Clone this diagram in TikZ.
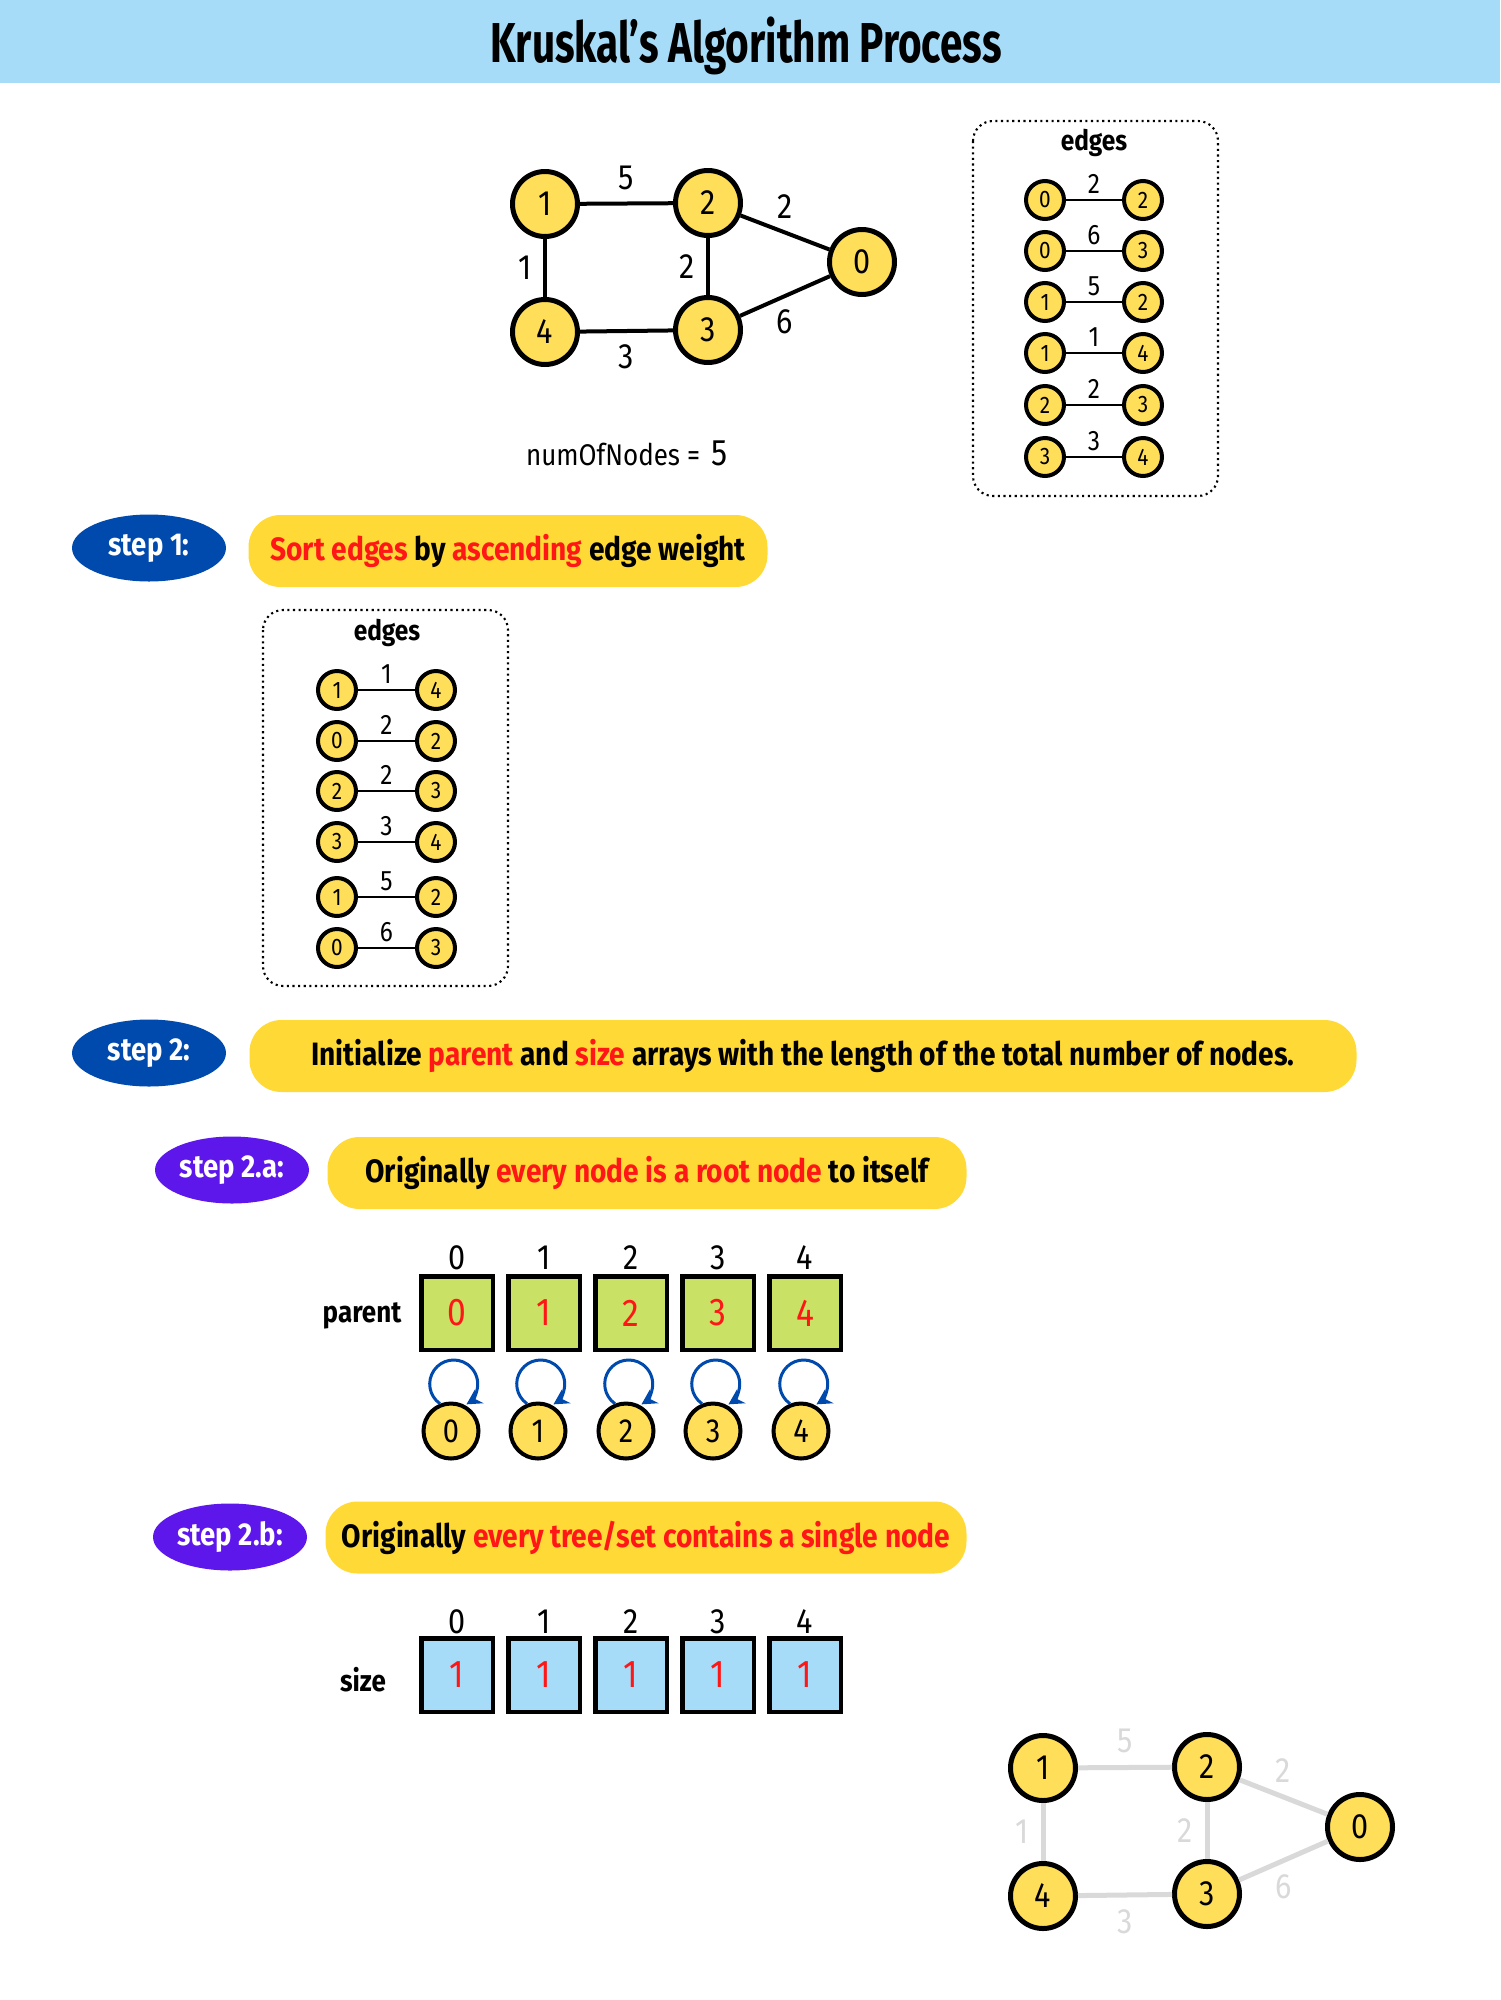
\documentclass[tikz,border=0pt]{standalone}
\usepackage{fontspec}
\setmainfont{Fira Sans}[FakeStretch=0.87]
\newfontfamily\titlefont{Fira Sans}[FakeStretch=0.72]
\usetikzlibrary{shapes.geometric,arrows.meta}

\definecolor{titleblue}{HTML}{A6DCF8}
\definecolor{nodeyellow}{HTML}{FFDE59}
\definecolor{banneryellow}{HTML}{FFDA36}
\definecolor{stepblue}{HTML}{004AAD}
\definecolor{steppurple}{HTML}{5E17EB}
\definecolor{cellgreen}{HTML}{C9E265}
\definecolor{textred}{HTML}{FF1616}
\definecolor{fadegray}{HTML}{D9D9D9}

\begin{document}
\begin{tikzpicture}[
    vertex/.style={shape=circle,draw=black,fill=nodeyellow,line width=0.5mm,minimum size=6.5mm,inner sep=0pt,font=\fontsize{10}{12}\selectfont},
    smallvertex/.style={shape=circle,draw=black,fill=nodeyellow,line width=0.4mm,minimum size=3.8mm,inner sep=0pt,font=\fontsize{6.8}{8}\selectfont},
    arrvertex/.style={shape=circle,draw=black,fill=nodeyellow,line width=0.4mm,minimum size=5.5mm,inner sep=0pt,font=\fontsize{9.5}{11}\selectfont},
    graphedge/.style={line width=0.4mm,font=\fontsize{10}{12}\selectfont},
    fadeedge/.style={draw=fadegray,line width=0.5mm,font=\fontsize{10}{12}\selectfont},
    fadelabel/.style={text=fadegray},
    listedge/.style={line width=0.2mm},
    weight/.style={above,inner sep=1.5pt,font=\fontsize{8}{10}\selectfont},
    listbox/.style={line width=0.6pt,densely dotted,rounded corners=2mm},
    boxtitle/.style={font=\bfseries\fontsize{8}{10}\selectfont},
    stepoval/.style={shape=ellipse,inner sep=0pt,minimum width=15.4mm,minimum height=6.7mm,text=white,font=\bfseries\fontsize{9}{11}\selectfont},
    banner/.style={fill=banneryellow,rounded corners=3.2mm,minimum height=7.2mm,font=\bfseries\fontsize{9.2}{11}\selectfont},
    cell/.style={draw=black,line width=0.45mm,minimum width=7.15mm,minimum height=7.35mm,inner sep=0pt,text=textred,font=\fontsize{11}{13}\selectfont},
    idx/.style={font=\fontsize{10}{12}\selectfont},
    arrname/.style={font=\bfseries\fontsize{8.5}{10}\selectfont},
    selfloop/.style={->,>={Stealth[length=1.5mm,width=1.6mm]},draw=stepblue,line width=0.3mm}
  ]
    \useasboundingbox (0,0) rectangle (15,-20);

    % title bar
    \fill[titleblue] (0,0) rectangle (15,-0.83);
    \node[font=\titlefont\bfseries\fontsize{16}{18}\selectfont] (title) at (7.46,-0.46) {Kruskal’s Algorithm Process};

    % graph
    \node[vertex] (g1) at (5.45,-2.04) {1};
    \node[vertex] (g2) at (7.08,-2.03) {2};
    \node[vertex] (g0) at (8.62,-2.62) {0};
    \node[vertex] (g4) at (5.45,-3.32) {4};
    \node[vertex] (g3) at (7.08,-3.30) {3};
    \path [graphedge] (g1) edge node[above]{5} (g2);
    \path [graphedge] (g2) edge node[above]{2} (g0);
    \path [graphedge] (g1) edge node[left]{1} (g4);
    \path [graphedge] (g2) edge node[left]{2} (g3);
    \path [graphedge] (g4) edge node[below]{3} (g3);
    \path [graphedge] (g3) edge node[below]{6} (g0);
    \node[font=\fontsize{8.5}{10}\selectfont] (num) at (6.27,-4.53) {numOfNodes =\ \,{\fontsize{10.5}{12}\selectfont 5}};

    % edges list
    \draw[listbox] (9.73,-1.21) rectangle (12.18,-4.96);
    \node[boxtitle] (E) at (10.94,-1.43) {edges};
    \node[smallvertex] (a1) at (10.45,-2.00) {0};
    \node[smallvertex] (b1) at (11.43,-2.00) {2};
    \path [listedge] (a1) edge node[weight]{2} (b1);
    \node[smallvertex] (a2) at (10.45,-2.51) {0};
    \node[smallvertex] (b2) at (11.43,-2.51) {3};
    \path [listedge] (a2) edge node[weight]{6} (b2);
    \node[smallvertex] (a3) at (10.45,-3.02) {1};
    \node[smallvertex] (b3) at (11.43,-3.02) {2};
    \path [listedge] (a3) edge node[weight]{5} (b3);
    \node[smallvertex] (a4) at (10.45,-3.53) {1};
    \node[smallvertex] (b4) at (11.43,-3.53) {4};
    \path [listedge] (a4) edge node[weight]{1} (b4);
    \node[smallvertex] (a5) at (10.45,-4.05) {2};
    \node[smallvertex] (b5) at (11.43,-4.05) {3};
    \path [listedge] (a5) edge node[weight]{2} (b5);
    \node[smallvertex] (a6) at (10.45,-4.57) {3};
    \node[smallvertex] (b6) at (11.43,-4.57) {4};
    \path [listedge] (a6) edge node[weight]{3} (b6);

    % step 1
    \node[stepoval,fill=stepblue] (S1) at (1.49,-5.48) {step 1:};
    \node[banner,minimum width=5.19cm] (T1) at (5.08,-5.51) {\textcolor{textred}{Sort edges} by \textcolor{textred}{ascending} edge weight};

    % sorted edges list
    \draw[listbox] (2.63,-6.10) rectangle (5.08,-9.86);
    \node[boxtitle] (F) at (3.87,-6.33) {edges};
    \node[smallvertex] (s1) at (3.37,-6.90) {1};
    \node[smallvertex] (t1) at (4.36,-6.90) {4};
    \path [listedge] (s1) edge node[weight]{1} (t1);
    \node[smallvertex] (s2) at (3.37,-7.41) {0};
    \node[smallvertex] (t2) at (4.36,-7.41) {2};
    \path [listedge] (s2) edge node[weight]{2} (t2);
    \node[smallvertex] (s3) at (3.37,-7.91) {2};
    \node[smallvertex] (t3) at (4.36,-7.91) {3};
    \path [listedge] (s3) edge node[weight]{2} (t3);
    \node[smallvertex] (s4) at (3.37,-8.42) {3};
    \node[smallvertex] (t4) at (4.36,-8.42) {4};
    \path [listedge] (s4) edge node[weight]{3} (t4);
    \node[smallvertex] (s5) at (3.37,-8.97) {1};
    \node[smallvertex] (t5) at (4.36,-8.97) {2};
    \path [listedge] (s5) edge node[weight]{5} (t5);
    \node[smallvertex] (s6) at (3.37,-9.48) {0};
    \node[smallvertex] (t6) at (4.36,-9.48) {3};
    \path [listedge] (s6) edge node[weight]{6} (t6);

    % step 2
    \node[stepoval,fill=stepblue] (S2) at (1.49,-10.53) {step 2:};
    \node[banner,minimum width=11.07cm] (T2) at (8.03,-10.56) {Initialize \textcolor{textred}{parent} and \textcolor{textred}{size} arrays with the length of the total number of nodes.};

    % step 2.a
    \node[stepoval,fill=steppurple] (S2a) at (2.32,-11.70) {step 2.a:};
    \node[banner,minimum width=6.39cm] (T2a) at (6.47,-11.73) {Originally \textcolor{textred}{every node is a root node} to itself};

    \node[arrname] (P) at (3.62,-13.16) {parent};
    \node[cell,fill=cellgreen] (c0) at (4.57,-13.13) {0};
    \node[cell,fill=cellgreen] (c1) at (5.44,-13.13) {1};
    \node[cell,fill=cellgreen] (c2) at (6.31,-13.13) {2};
    \node[cell,fill=cellgreen] (c3) at (7.18,-13.13) {3};
    \node[cell,fill=cellgreen] (c4) at (8.05,-13.13) {4};
    \node[idx] at (4.57,-12.58) {0};
    \node[idx] at (5.44,-12.58) {1};
    \node[idx] at (6.31,-12.58) {2};
    \node[idx] at (7.18,-12.58) {3};
    \node[idx] at (8.05,-12.58) {4};

    \node[arrvertex] (p0) at (4.51,-14.31) {0};
    \node[arrvertex] (p1) at (5.38,-14.31) {1};
    \node[arrvertex] (p2) at (6.26,-14.31) {2};
    \node[arrvertex] (p3) at (7.13,-14.31) {3};
    \node[arrvertex] (p4) at (8.01,-14.31) {4};
    \draw[selfloop] (p0.112) arc[start angle=235,end angle=-58,radius=2.4mm];
    \draw[selfloop] (p1.112) arc[start angle=235,end angle=-58,radius=2.4mm];
    \draw[selfloop] (p2.112) arc[start angle=235,end angle=-58,radius=2.4mm];
    \draw[selfloop] (p3.112) arc[start angle=235,end angle=-58,radius=2.4mm];
    \draw[selfloop] (p4.112) arc[start angle=235,end angle=-58,radius=2.4mm];

    % step 2.b
    \node[stepoval,fill=steppurple] (S2b) at (2.30,-15.37) {step 2.b:};
    \node[banner,minimum width=6.41cm] (T2b) at (6.46,-15.375) {Originally \textcolor{textred}{every tree/set contains a single node}};

    \node[arrname] (Z) at (3.63,-16.80) {size};
    \node[cell,fill=titleblue] (d0) at (4.57,-16.75) {1};
    \node[cell,fill=titleblue] (d1) at (5.44,-16.75) {1};
    \node[cell,fill=titleblue] (d2) at (6.31,-16.75) {1};
    \node[cell,fill=titleblue] (d3) at (7.18,-16.75) {1};
    \node[cell,fill=titleblue] (d4) at (8.05,-16.75) {1};
    \node[idx] at (4.57,-16.22) {0};
    \node[idx] at (5.44,-16.22) {1};
    \node[idx] at (6.31,-16.22) {2};
    \node[idx] at (7.18,-16.22) {3};
    \node[idx] at (8.05,-16.22) {4};

    % faded graph
    \node[vertex] (h1) at (10.43,-17.68) {1};
    \node[vertex] (h2) at (12.07,-17.67) {2};
    \node[vertex] (h0) at (13.60,-18.27) {0};
    \node[vertex] (h4) at (10.43,-18.96) {4};
    \node[vertex] (h3) at (12.07,-18.94) {3};
    \path [fadeedge] (h1) edge node[above,fadelabel]{5} (h2);
    \path [fadeedge] (h2) edge node[above,fadelabel]{2} (h0);
    \path [fadeedge] (h1) edge node[left,fadelabel]{1} (h4);
    \path [fadeedge] (h2) edge node[left,fadelabel]{2} (h3);
    \path [fadeedge] (h4) edge node[below,fadelabel]{3} (h3);
    \path [fadeedge] (h3) edge node[below,fadelabel]{6} (h0);
\end{tikzpicture}
\end{document}
